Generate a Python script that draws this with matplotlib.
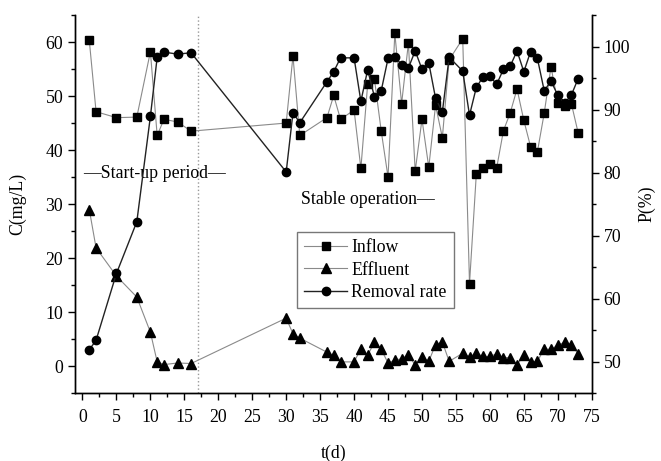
import matplotlib; matplotlib.use('Agg')
import matplotlib.pyplot as plt
from matplotlib.ticker import MultipleLocator

plt.rcParams['font.family'] = ['Liberation Serif', 'DejaVu Serif']
plt.rcParams['font.size'] = 12.8

# inflow C(mg/L)
t_in = [1, 2, 5, 8, 10, 11, 12, 14, 16, 30, 31, 32, 36, 37, 38, 40, 41, 42, 43, 44, 45, 46, 47, 48,
        49, 50, 51, 52, 53, 54, 56, 57, 58, 59, 60, 61, 62, 63, 64, 65, 66, 67, 68, 69, 70, 71, 72, 73]
c_in = [60.3, 47.1, 46.0, 46.1, 58.2, 42.7, 45.7, 45.2, 43.5, 45.0, 57.4, 42.7, 46.0, 50.1, 45.7, 47.4,
        36.6, 52.2, 53.1, 43.5, 35.0, 61.6, 48.6, 59.8, 36.1, 45.7, 36.8, 48.3, 42.3, 56.7, 60.6, 15.3,
        35.5, 36.7, 37.5, 36.7, 43.6, 46.9, 51.3, 45.5, 40.6, 39.7, 46.8, 55.4, 48.8, 48.2, 48.6, 43.2]
# effluent C(mg/L)
t_out = t_in
c_out = [29.0, 21.9, 16.7, 12.8, 6.3, 0.8, 0.3, 0.6, 0.5, 8.9, 6.0, 5.2, 2.6, 2.0, 0.8, 0.8,
         3.2, 2.0, 4.5, 3.1, 0.6, 1.1, 1.4, 2.1, 0.2, 1.7, 0.9, 4.0, 4.5, 0.9, 2.4, 1.7,
         2.4, 1.8, 1.8, 2.3, 1.6, 1.6, 0.3, 2.0, 0.8, 0.9, 3.2, 3.1, 3.9, 4.4, 4.0, 2.3]
# removal rate P(%)
t_rr = t_in
p_rr = [51.9, 53.4, 64.0, 72.2, 88.9, 98.3, 99.1, 98.8, 99.0, 80.1, 89.5, 87.9, 94.4, 96.0, 98.2, 98.2,
        91.3, 96.3, 92.0, 93.0, 98.1, 98.4, 97.1, 96.6, 99.3, 96.4, 97.4, 91.8, 89.6, 98.3, 96.1, 89.1,
        93.5, 95.2, 95.3, 94.0, 96.4, 96.9, 99.3, 96.0, 99.2, 98.1, 93.0, 94.5, 92.3, 91.0, 92.3, 94.9]

fig = plt.figure(figsize=(6.61, 4.61), dpi=100)
ax = fig.add_axes([0.1135, 0.147, 0.7817, 0.8205])
ax2 = ax.twinx()

l1, = ax.plot(t_in, c_in, color='#8a8a8a', lw=0.8, marker='s', ms=5.5, mfc='black', mec='black', label='Inflow')
l2, = ax.plot(t_out, c_out, color='#8a8a8a', lw=0.8, marker='^', ms=7, mfc='black', mec='black', label='Effluent')
l3, = ax2.plot(t_rr, p_rr, color='#222222', lw=1.0, marker='o', ms=6, mfc='black', mec='black', label='Removal rate')

ax.axvline(17, color='#999999', ls=':', lw=1)

ax.set_xlim(-1.1, 75)
ax.set_ylim(-5, 65)
ax2.set_ylim(45, 105)
ax.xaxis.set_major_locator(MultipleLocator(5)); ax.xaxis.set_minor_locator(MultipleLocator(2.5))
ax.yaxis.set_major_locator(MultipleLocator(10)); ax.yaxis.set_minor_locator(MultipleLocator(5))
ax2.yaxis.set_major_locator(MultipleLocator(10)); ax2.yaxis.set_minor_locator(MultipleLocator(5))
for a in (ax, ax2):
    a.spines['top'].set_visible(False)
    for s in a.spines.values(): s.set_linewidth(1.0)
    a.tick_params(which='major', direction='out', length=5, width=1)
    a.tick_params(which='minor', direction='out', length=3, width=1)
ax.tick_params(axis='x', pad=6)

ax.set_xlabel('t(d)', labelpad=14)
ax.set_ylabel('C(mg/L)', labelpad=14)
ax2.set_ylabel('P(%)', labelpad=6)

ax.text(0.1, 35.6, '—Start-up period—', ha='left', va='center')
ax.text(32.2, 30.8, 'Stable operation—', ha='left', va='center')

leg = ax2.legend([l1, l2, l3], ['Inflow', 'Effluent', 'Removal rate'], loc='upper left',
                 bbox_to_anchor=(0.43, 0.426), borderaxespad=0, fancybox=False, edgecolor='#777777',
                 framealpha=1, handlelength=2.4, handletextpad=0.25, labelspacing=0.3, borderpad=0.4)
leg.get_frame().set_linewidth(1.0)

plt.savefig('out.png', dpi=100)
